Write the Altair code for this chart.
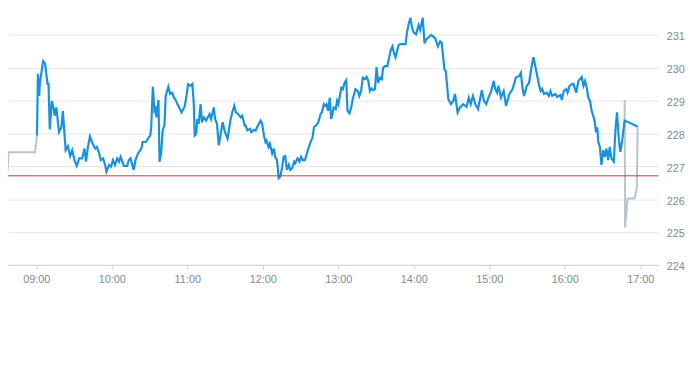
import altair as alt
import pandas as pd

# Regular session (minutes after 09:00, price)
session_minutes = [
    0.5, 1.3, 2.3, 2.8, 5.4, 7.0, 8.9, 9.7, 10.7, 12.3, 13.8, 14.6, 15.9, 18.0, 19.9, 21.1, 23.3, 25.1, 26.9, 28.5,
    30.3, 32.1, 34.2, 36.4, 38.2, 39.5, 40.8, 42.6, 44.7, 46.8, 48.1, 50.0, 51.3, 53.1, 54.7, 55.7, 57.8, 59.4, 60.9, 62.5,
    64.3, 65.7, 67.0, 69.6, 72.2, 73.5, 74.8, 77.4, 78.8, 80.8, 83.5, 84.5, 87.1, 88.7, 90.6, 91.3, 92.6, 93.9, 94.7, 95.5,
    97.1, 97.9, 99.2, 100.4, 101.8, 102.8, 103.9, 104.9, 106.3, 108.1, 109.4, 110.7, 112.2, 114.1, 115.4, 116.9, 118.0, 119.3, 120.6, 122.4,
    124.0, 125.1, 125.9, 127.1, 127.9, 129.0, 130.6, 131.6, 133.2, 135.0, 136.3, 137.7, 138.9, 141.0, 142.1, 143.6, 145.0, 146.8, 148.1, 149.9,
    152.0, 154.2, 155.7, 157.3, 158.6, 160.4, 162.5, 163.6, 165.6, 166.4, 167.7, 169.9, 170.9, 173.0, 174.3, 176.1, 178.2, 179.5, 180.9, 182.1,
    182.9, 184.5, 185.6, 187.4, 188.7, 190.0, 191.3, 192.6, 193.9, 195.2, 196.6, 197.8, 199.2, 200.7, 201.8, 203.3, 204.9, 205.7, 207.6, 209.1,
    210.4, 211.7, 213.5, 214.3, 216.2, 218.0, 219.6, 220.6, 222.2, 224.1, 225.9, 226.9, 228.5, 229.6, 230.6, 231.9, 233.2, 234.3, 235.3, 236.3,
    237.9, 239.0, 240.0, 241.0, 242.4, 243.7, 244.9, 246.3, 247.3, 248.9, 250.2, 251.5, 253.6, 255.5, 256.7, 258.1, 259.4, 261.2, 262.5, 263.8,
    265.1, 266.5, 267.7, 269.1, 270.4, 271.6, 273.2, 274.6, 275.6, 277.1, 279.0, 280.3, 281.6, 283.0, 284.2, 285.5, 286.9, 288.1, 289.5, 291.3,
    293.4, 294.7, 296.0, 297.3, 298.7, 299.9, 301.8, 302.8, 303.8, 305.0, 307.1, 308.5, 309.8, 313.8, 316.9, 319.1, 320.9, 322.2, 324.3, 325.4,
    327.4, 329.5, 331.3, 332.7, 334.8, 336.6, 339.2, 341.9, 343.7, 345.2, 347.0, 348.9, 351.0, 352.3, 354.1, 355.7, 357.6, 359.3, 361.5, 363.5,
    364.6, 366.2, 367.2, 369.3, 371.4, 373.3, 375.9, 378.5, 381.1, 383.7, 385.1, 386.3, 387.6, 389.8, 391.6, 393.4, 395.0, 396.8, 398.1, 399.4,
    400.8, 402.0, 403.4, 405.5, 407.3, 408.6, 409.9, 412.5, 413.8, 416.5, 417.7, 419.1, 421.2, 422.2, 423.8, 425.6, 426.9, 429.0, 430.8, 433.4,
    434.8, 436.1, 437.4, 438.7, 440.0, 441.3, 442.6, 443.9, 444.7, 445.8, 446.6, 447.9, 449.1, 450.5, 451.8, 453.1, 454.4, 455.7, 457.0, 458.9,
    460.4, 461.5, 463.0, 464.1, 465.6, 467.5, 477.9,
]
session_prices = [
    227.94, 229.82, 229.14, 229.51, 230.20, 230.12, 229.51, 229.51, 228.12, 228.99, 228.75, 228.54, 228.79, 228.04, 228.19, 228.69, 227.49, 227.61, 227.31, 227.49,
    227.19, 227.01, 227.24, 227.24, 227.54, 227.14, 227.54, 227.91, 227.69, 227.54, 227.59, 227.39, 227.19, 227.24, 227.04, 226.84, 227.04, 226.99, 227.19, 227.04,
    227.24, 227.14, 227.29, 227.01, 227.01, 227.19, 227.24, 226.89, 227.19, 227.39, 227.54, 227.74, 227.74, 227.84, 227.94, 228.19, 229.42, 228.69, 228.75, 228.49,
    229.02, 227.14, 227.39, 228.09, 228.24, 229.14, 229.29, 229.42, 229.20, 229.23, 229.09, 229.02, 228.89, 228.74, 228.64, 228.74, 228.84, 229.14, 229.50, 229.45,
    229.51, 228.94, 227.94, 227.99, 228.44, 228.29, 228.89, 228.34, 228.49, 228.39, 228.49, 228.59, 228.44, 228.79, 228.44, 228.29, 227.64, 228.04, 228.34, 228.04,
    227.84, 228.39, 228.64, 228.84, 228.64, 228.59, 228.49, 228.54, 228.24, 228.24, 228.09, 228.14, 228.04, 228.11, 228.09, 228.24, 228.39, 228.29, 227.94, 227.74,
    227.79, 227.59, 227.69, 227.39, 227.54, 227.27, 227.19, 226.64, 226.69, 226.94, 227.29, 227.31, 226.89, 227.04, 226.89, 226.94, 227.14, 227.09, 227.24, 227.14,
    227.29, 227.19, 227.19, 227.29, 227.54, 227.74, 227.89, 228.19, 228.24, 228.34, 228.59, 228.64, 228.89, 228.84, 228.89, 228.69, 229.09, 228.44, 228.59, 228.79,
    228.74, 228.99, 228.89, 229.09, 229.39, 229.35, 229.54, 229.62, 228.69, 228.61, 228.79, 229.05, 229.35, 229.29, 229.14, 229.29, 229.70, 229.65, 229.72, 229.60,
    229.29, 229.37, 229.32, 229.35, 230.02, 229.54, 229.70, 229.65, 230.00, 230.05, 230.05, 230.30, 230.52, 230.65, 230.45, 230.32, 230.55, 230.70, 230.72, 230.72,
    230.72, 231.10, 231.35, 231.52, 231.20, 231.08, 231.02, 231.16, 231.30, 231.15, 231.52, 230.74, 230.86, 231.00, 230.90, 230.65, 230.80, 230.75, 229.95, 229.90,
    229.05, 228.89, 228.99, 229.20, 228.64, 228.79, 228.89, 228.81, 229.09, 228.89, 229.14, 228.89, 228.74, 228.99, 229.32, 228.99, 228.89, 229.09, 229.29, 229.60,
    229.37, 229.24, 229.45, 229.09, 229.29, 228.84, 229.20, 229.35, 229.70, 229.75, 229.85, 229.39, 229.14, 229.45, 229.54, 230.00, 230.32, 230.00, 229.75, 229.50,
    229.29, 229.35, 229.20, 229.24, 229.14, 229.29, 229.14, 229.20, 229.11, 229.17, 229.02, 229.29, 229.35, 229.24, 229.45, 229.50, 229.51, 229.24, 229.60, 229.72,
    229.45, 229.60, 229.39, 229.09, 228.99, 228.69, 228.54, 228.34, 228.04, 228.19, 227.74, 227.59, 227.04, 227.49, 227.29, 227.54, 227.19, 227.59, 227.24, 227.14,
    228.19, 228.64, 227.79, 227.44, 227.79, 228.39, 228.21,
]

# Extended hours (pre-market and after-hours)
pre_minutes = [-31.0, -23.0, -22.0, -1.0, 0.5]
pre_prices = [231.0, 226.83, 227.43, 227.43, 227.94]
post_minutes = [467.5, 467.6, 467.9, 469.9, 475.4, 477.2, 477.9]
post_prices = [228.39, 229.02, 225.14, 226.02, 226.02, 226.35, 228.21]

previous_close = 226.71
y_ticks = [224, 225, 226, 227, 228, 229, 230, 231]
hour_labels = ["09:00", "10:00", "11:00", "12:00", "13:00", "14:00", "15:00", "16:00", "17:00"]

assert len(session_minutes) == len(session_prices), (len(session_minutes), len(session_prices))

base = pd.Timestamp("2024-01-02 09:00:00")


def to_iso(mins):
    return [(base + pd.to_timedelta(m, unit="min")).strftime("%Y-%m-%dT%H:%M:%S") for m in mins]


session_df = pd.DataFrame({"time": to_iso(session_minutes), "price": session_prices})
ext_df = pd.concat([
    pd.DataFrame({"time": to_iso(pre_minutes), "price": pre_prices, "seg": "pre"}),
    pd.DataFrame({"time": to_iso(post_minutes), "price": post_prices, "seg": "post"}),
])


def dt(hhmmss):
    h, m, s = [int(v) for v in hhmmss.split(":")]
    return alt.DateTime(year=2024, month=1, date=2, hours=h, minutes=m, seconds=s)


x_domain = [dt("08:37:30"), dt("17:14:18")]
x_values = [dt(h + ":00") for h in hour_labels]

label_color = "#7f8a95"

x_enc = alt.X(
    "time:T",
    scale=alt.Scale(domain=x_domain),
    axis=alt.Axis(
        values=x_values, format="%H:%M", title=None, grid=False,
        domainColor="#ccd6eb", tickColor="#ccd6eb", tickSize=5,
        labelColor=label_color, labelFontSize=11, labelPadding=4,
    ),
)
y_enc = alt.Y(
    "price:Q",
    scale=alt.Scale(domain=[224, 231.762], nice=False, zero=False),
    axis=alt.Axis(
        orient="right", values=y_ticks, format="d", title=None,
        grid=True, gridColor="#e6e6e6", domain=False, ticks=False,
        labelColor=label_color, labelFontSize=11, labelPadding=8,
        labelAlign="left", labelOffset=2, labelOverlap=False,
    ),
)

ext = alt.Chart(ext_df).mark_line(color="#b8c5cc", strokeWidth=2, clip=True).encode(
    x=x_enc, y=y_enc, detail="seg:N"
)
session = alt.Chart(session_df).mark_line(color="#1692e0", strokeWidth=2.2, clip=True).encode(
    x=x_enc, y=y_enc
)
close_rule = alt.Chart(pd.DataFrame({"price": [previous_close]})).mark_rule(
    color="#d9312b", strokeWidth=1
).encode(y=y_enc)

chart = (
    alt.layer(ext, session, close_rule)
    .properties(
        width=658, height=258,
        autosize=alt.AutoSizeParams(type="none"),
        padding={"left": 0, "top": 0, "right": 27, "bottom": 60},
    )
    .configure(font="Liberation Sans")
    .configure_view(strokeWidth=0)
)

chart.save("out.html", embed_options={"renderer": "svg", "actions": False})
